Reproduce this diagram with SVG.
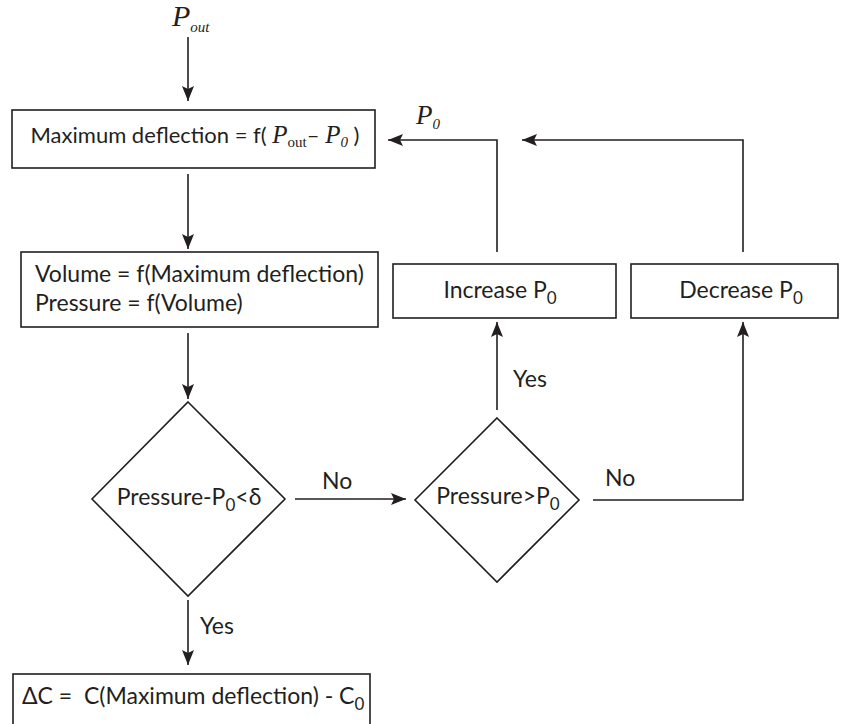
<svg xmlns="http://www.w3.org/2000/svg" width="843" height="724" viewBox="0 0 843 724">
  <defs>
    <marker id="arrow" markerUnits="userSpaceOnUse" markerWidth="16" markerHeight="12" refX="15" refY="6" orient="auto">
      <path d="M0,0 L15,6 L0,12 L3,6 Z" fill="#231f20"/>
    </marker>
    <style>
      .box { fill: #ffffff; stroke: #231f20; stroke-width: 1.6; }
      .dia { fill: #ffffff; stroke: #231f20; stroke-width: 1.6; }
      .line { fill: none; stroke: #231f20; stroke-width: 1.6; }
      .arr { fill: none; stroke: #231f20; stroke-width: 1.6; marker-end: url(#arrow); }
      .t { font-family: "Lato", "Open Sans", sans-serif; font-size: 23px; fill: #231f20; }
      .m { font-family: "Liberation Serif", "Times New Roman", serif; font-style: italic; fill: #231f20; }
      .sub { font-size: 17px; }
    </style>
  </defs>

  <rect width="843" height="724" fill="#ffffff"/>

  <!-- connectors -->
  <g id="connectors">
    <line class="arr" x1="188" y1="37" x2="188" y2="101"/>
    <line class="arr" x1="188" y1="174" x2="188" y2="249"/>
    <line class="arr" x1="188" y1="333" x2="188" y2="399"/>
    <line class="arr" x1="295" y1="499" x2="406" y2="499"/>
    <line class="arr" x1="188" y1="600" x2="188" y2="665"/>
    <line class="arr" x1="497" y1="410" x2="497" y2="322"/>
    <polyline class="arr" points="593,500 743,500 743,322"/>
    <polyline class="arr" points="497,252 497,140 388,140"/>
    <polyline class="arr" points="743,252 743,140 522,140"/>
    <text class="t" x="322" y="489">No</text>
    <text class="t" x="605" y="486">No</text>
    <text class="t" x="513" y="387">Yes</text>
    <text class="t" x="200" y="634">Yes</text>
    <text class="m" x="416" y="124" font-size="27">P<tspan font-size="15" dy="5">0</tspan></text>
  </g>

  <!-- input -->
  <g id="input">
    <text class="m" x="172" y="26" font-size="30">P<tspan font-size="15" dy="6">out</tspan></text>
  </g>

  <g id="max-deflection">
    <rect class="box" x="12" y="110" width="363" height="58"/>
    <text class="t" x="195" y="143" style="font-size:22px" text-anchor="middle">Maximum deflection = f( <tspan class="m" font-size="25">P</tspan><tspan font-family="Liberation Serif, serif" font-size="15" dy="4">out</tspan><tspan dy="-4">– </tspan><tspan class="m" font-size="25">P</tspan><tspan class="m" font-size="15" dy="4">0</tspan><tspan dy="-4"> )</tspan></text>
  </g>

  <g id="volume-pressure">
    <rect class="box" x="21" y="252" width="357" height="75"/>
    <text class="t" x="35" y="282">Volume = f(Maximum deflection)</text>
    <text class="t" x="35" y="311">Pressure = f(Volume)</text>
  </g>

  <g id="check-delta">
    <polygon class="dia" points="188,402 285,499 188,596 92,499"/>
    <text class="t" x="189" y="505" text-anchor="middle">Pressure-P<tspan class="sub" dy="6">0</tspan><tspan dy="-6">&lt;δ</tspan></text>
  </g>

  <g id="check-greater">
    <polygon class="dia" points="497,418 579,500 497,582 415,500"/>
    <text class="t" x="498" y="504" text-anchor="middle">Pressure&gt;P<tspan class="sub" dy="6">0</tspan></text>
  </g>

  <g id="increase">
    <rect class="box" x="393" y="264" width="223" height="54"/>
    <text class="t" x="500" y="298" text-anchor="middle">Increase P<tspan class="sub" dy="6">0</tspan></text>
  </g>

  <g id="decrease">
    <rect class="box" x="631" y="264" width="207" height="54"/>
    <text class="t" x="741" y="298" text-anchor="middle">Decrease P<tspan class="sub" dy="6">0</tspan></text>
  </g>

  <g id="delta-c">
    <rect class="box" x="13" y="674" width="357" height="70"/>
    <text class="t" x="22" y="704">ΔC =&#160; C(Maximum deflection) - C<tspan class="sub" dy="6">0</tspan></text>
  </g>
</svg>
